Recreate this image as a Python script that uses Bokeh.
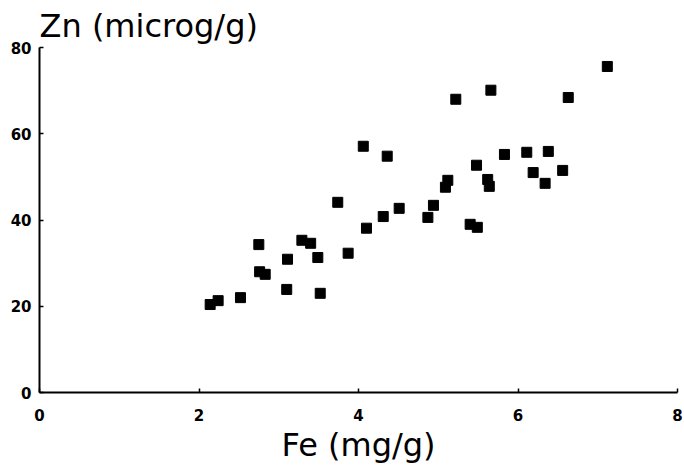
from bokeh.plotting import figure
from bokeh.models import Range1d, FixedTicker
from bokeh.embed import file_html
from bokeh.resources import INLINE

# Fe (mg/g) and Zn (microg/g) values
fe = [2.14, 2.24, 2.52, 2.75, 2.76, 2.83, 3.11, 3.10, 3.29, 3.40,
      3.49, 3.52, 3.74, 3.87, 4.06, 4.10, 4.31, 4.36, 4.51, 4.87,
      4.94, 5.09, 5.12, 5.22, 5.40, 5.49, 5.48, 5.62, 5.64, 5.66,
      5.83, 6.11, 6.19, 6.34, 6.38, 6.56, 6.63, 7.12]
zn = [20.4, 21.3, 22.0, 34.3, 28.0, 27.4, 30.9, 23.9, 35.3, 34.6,
      31.3, 23.0, 44.1, 32.3, 57.1, 38.1, 40.8, 54.8, 42.7, 40.6,
      43.4, 47.6, 49.2, 68.0, 39.0, 38.3, 52.7, 49.4, 47.8, 70.1,
      55.2, 55.7, 51.0, 48.5, 55.9, 51.5, 68.4, 75.6]

x_ticks = [0, 2, 4, 6, 8]
y_ticks = [0, 20, 40, 60, 80]
x_title = "Fe (mg/g)"
y_title = "Zn (microg/g)"

p = figure(width=684, height=468, output_backend="svg", toolbar_location=None,
           x_range=Range1d(0, 8), y_range=Range1d(0, 80),
           min_border_left=39, min_border_right=7,
           min_border_top=47, min_border_bottom=76)

p.background_fill_color = "white"
p.border_fill_color = "white"
p.outline_line_color = None
p.grid.visible = False

p.title.text = y_title
p.title.align = "left"
p.title.text_font = "DejaVu Sans"
p.title.text_font_size = "32px"
p.title.text_font_style = "normal"
p.title.text_color = "black"
p.title.standoff = 5
p.title.offset = 0

for ax in (p.xaxis[0], p.yaxis[0]):
    ax.axis_line_color = "black"
    ax.axis_line_width = 2
    ax.major_tick_line_color = "black"
    ax.major_tick_line_width = 1.5
    ax.major_tick_in = 4
    ax.major_tick_out = 0
    ax.minor_tick_line_color = None
    ax.major_label_text_font = "DejaVu Sans"
    ax.major_label_text_font_style = "bold"
    ax.major_label_text_font_size = "15px"
    ax.major_label_text_color = "black"

p.xaxis.ticker = FixedTicker(ticks=x_ticks)
p.yaxis.ticker = FixedTicker(ticks=y_ticks)
p.xaxis.major_label_standoff = 16
p.yaxis.major_label_standoff = 8

p.xaxis.axis_label = x_title
p.xaxis.axis_label_text_font = "DejaVu Sans"
p.xaxis.axis_label_text_font_size = "32px"
p.xaxis.axis_label_text_font_style = "normal"
p.xaxis.axis_label_text_color = "black"
p.xaxis.axis_label_standoff = 2

p.scatter(fe, zn, marker="square", size=10, fill_color="black",
          line_color="black", line_width=1)

open("out.html", "w").write(file_html(p, INLINE))
